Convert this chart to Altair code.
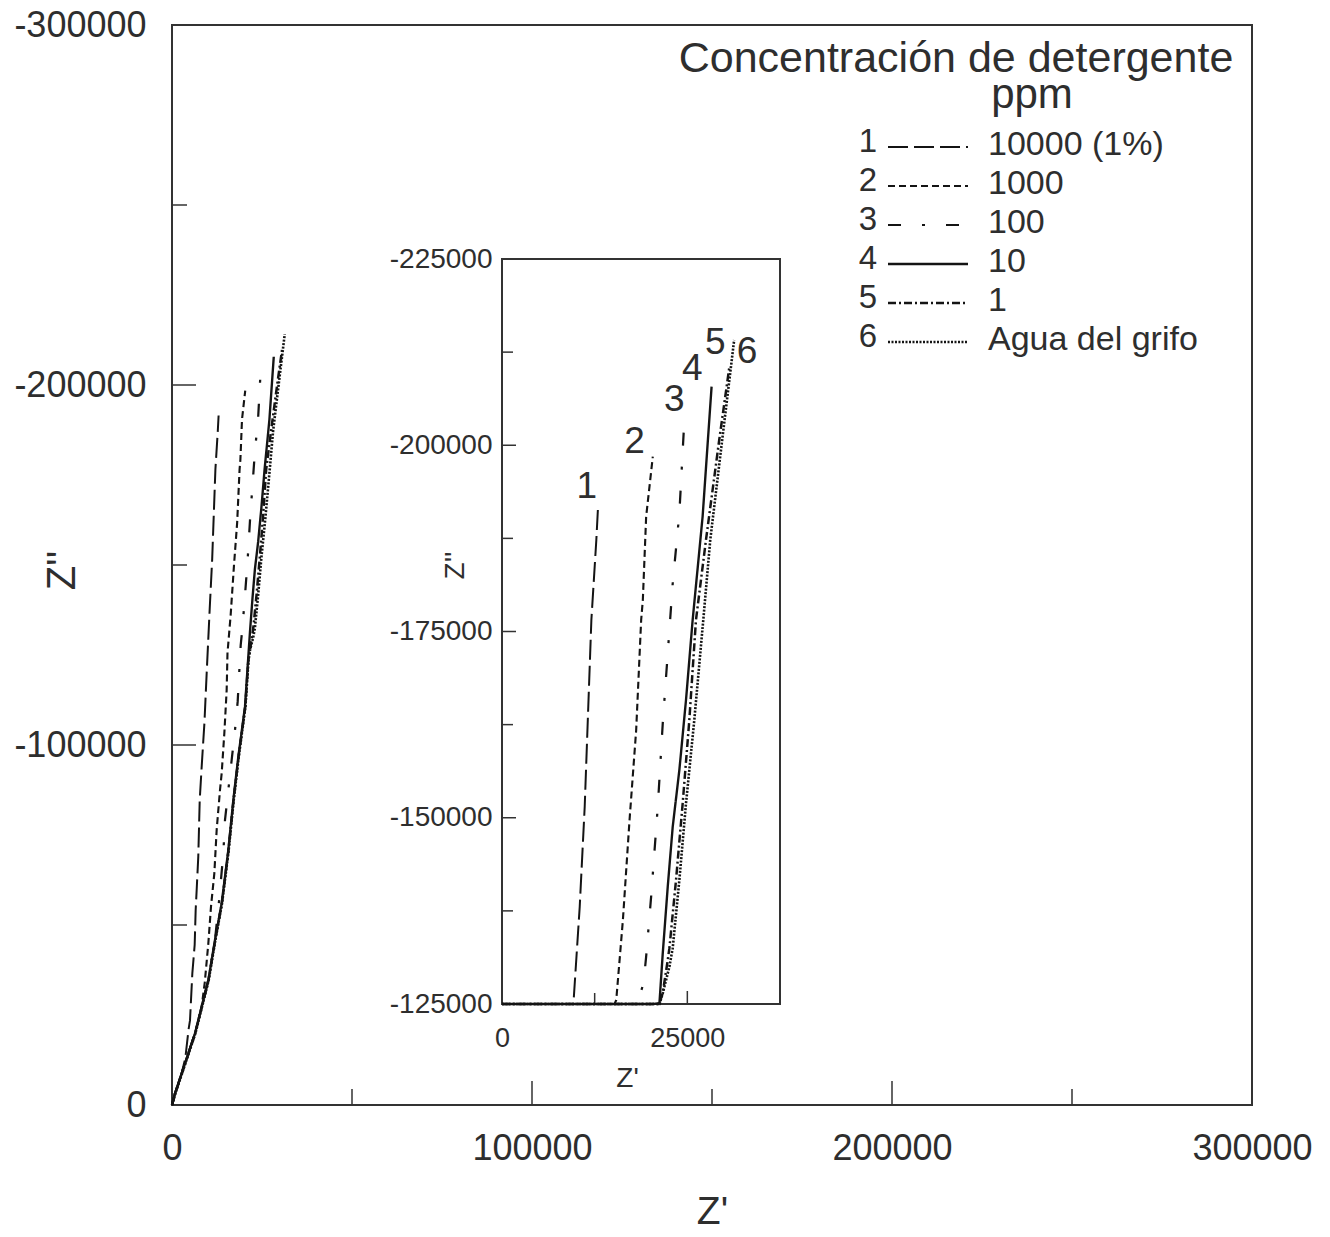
import altair as alt
import pandas as pd

FONT = "Liberation Sans"
TEXT_COLOR = "#2e2e2e"
AXIS_COLOR = "#333333"
LINE_COLOR = "#141414"

# ---------------- data ----------------
SERIES = ["10000 (1%)", "1000", "100", "10", "1", "Agua del grifo"]
LEG_NUM = ["1", "2", "3", "4", "5", "6"]
LEGEND_TITLE = "Concentración de detergente"
LEGEND_UNIT = "ppm"

S1_X = [0, 833, 2685, 3700, 4600, 5000, 5648, 6300, 6574, 6852, 7300, 7700, 8300, 9000, 9630, 10484, 11156, 12056, 12724, 12944]
S1_Y = [0, -3241, -8796, -13000, -21000, -23500, -36574, -44500, -54167, -59722, -68981, -84722, -94907, -106019, -119907, -138060, -151484, -176544, -187282, -191537]

S2_X = [0, 833, 2685, 4537, 6389, 8241, 9100, 10093, 10833, 11759, 12407, 13333, 13796, 14537, 15185, 15412, 16308, 17204, 18100, 18772, 18997, 19444, 20341]
S2_Y = [0, -3241, -8796, -14352, -19907, -27315, -34000, -44907, -55093, -64352, -76389, -87500, -92130, -103241, -115278, -125537, -136275, -149698, -161779, -176544, -179228, -190409, -198463]

S3_X = [0, 833, 2685, 4537, 6389, 8241, 10093, 11944, 13100, 14259, 14722, 15648, 16574, 17500, 18241, 19086, 19444, 20117, 21013, 21685, 22581, 23029, 23925, 24597]
S3_Y = [0, -3241, -8796, -14352, -19907, -27315, -34722, -45833, -57000, -69907, -79167, -87500, -95833, -104167, -112037, -127785, -131349, -139403, -151484, -162676, -175201, -181477, -190866, -203389]

S4_X = [0, 833, 2685, 4537, 6389, 8241, 10093, 11944, 13796, 15648, 17037, 18426, 20278, 21237, 21685, 22357, 23029, 23925, 24821, 25717, 27061, 28271]
S4_Y = [0, -3241, -8796, -14352, -19907, -27315, -34722, -45833, -56019, -70833, -84722, -96759, -110648, -125089, -131798, -140745, -148800, -156409, -165805, -176544, -190409, -207859]

S5_X = [0, 900, 2750, 4600, 6450, 8300, 10150, 12000, 13850, 15700, 17100, 18500, 20350, 21200, 21685, 22300, 22581, 23476, 24373, 25269, 26165, 27514, 29301, 30645]
S5_Y = [0, -3241, -8796, -14352, -19907, -27315, -34722, -45833, -56019, -70833, -84722, -96759, -110648, -123500, -126500, -130500, -132500, -141644, -151940, -163121, -176544, -187282, -200705, -210331]

S6_X = [0, 950, 2800, 4650, 6500, 8350, 10200, 12050, 13900, 15750, 17150, 18550, 20400, 21250, 21700, 22581, 23029, 23925, 24821, 25941, 27151, 28091, 29700, 31317]
S6_Y = [0, -3241, -8796, -14352, -19907, -27315, -34722, -45833, -56019, -70833, -84722, -96759, -110648, -123500, -126500, -130000, -132500, -141644, -151940, -163121, -176544, -187282, -200705, -214128]

INSET_LABEL_X = [11425, 17876, 23253, 25672, 28763, 33065]
INSET_LABEL_Y = [-194396, -200436, -206074, -210235, -213725, -212517]

MAIN_X_LABELS = [0, 100000, 200000, 300000]
MAIN_Y_LABELS = [0, -100000, -200000, -300000]
MAIN_X_MAJOR = [100000, 200000]
MAIN_X_MINOR = [50000, 150000, 250000]
MAIN_Y_MAJOR = [-100000, -200000]
MAIN_Y_MINOR = [-50000, -150000, -250000]

INSET_X_LABELS = [0, 25000]
INSET_Y_LABELS = [-225000, -200000, -175000, -150000, -125000]
INSET_X_MAJOR = [25000]
INSET_X_MINOR = [12500, 37500]
INSET_Y_MAJOR = [-200000, -175000, -150000]
INSET_Y_MINOR = [-212500, -187500, -162500, -137500]

# ---------------- styles ----------------
DASHES = [[20, 6], [7, 4], [13, 21, 3, 21], [1, 0], [8, 3, 2, 3], [2, 1.5]]
WIDTHS = [2, 2.6, 2.2, 2, 2, 1.5]

rows = []
for name, xs, ys in zip(SERIES, [S1_X, S2_X, S3_X, S4_X, S5_X, S6_X],
                        [S1_Y, S2_Y, S3_Y, S4_Y, S5_Y, S6_Y]):
    for i, (xv, yv) in enumerate(zip(xs, ys)):
        rows.append({"series": name, "i": i, "x": xv, "y": yv})
df = pd.DataFrame(rows)

dash_scale = alt.Scale(domain=SERIES, range=DASHES)
width_scale = alt.Scale(domain=SERIES, range=WIDTHS)

Y_LABEL_EXPR = "datum.value < 0 ? '-' + format(-datum.value, 'd') : '0'"
X_LABEL_EXPR = "format(datum.value, 'd')"

# ---------------- main plot ----------------
main_x = alt.Scale(domain=[0, 300000], nice=False, zero=False)
main_y = alt.Scale(domain=[0, -300000], nice=False, zero=False)

x_axis_main = alt.Axis(values=MAIN_X_LABELS, ticks=False, tickSize=0, domain=False, grid=False,
                       labelFont=FONT, labelFontSize=36, labelColor=TEXT_COLOR, labelPadding=26,
                       labelFlush=False, labelOverlap=False, labelExpr=X_LABEL_EXPR,
                       title="Z'", titleFont=FONT, titleFontSize=39, titleFontWeight="normal",
                       titleColor=TEXT_COLOR, titleX=540, titleY=106, titleBaseline="middle",
                       titleAlign="center", orient="bottom")
y_axis_main = alt.Axis(values=MAIN_Y_LABELS, ticks=False, tickSize=0, domain=False, grid=False,
                       labelFont=FONT, labelFontSize=36, labelColor=TEXT_COLOR, labelPadding=26,
                       labelFlush=False, labelOverlap=False, labelExpr=Y_LABEL_EXPR,
                       title="Z''", titleFont=FONT, titleFontSize=40, titleFontWeight="normal",
                       titleColor=TEXT_COLOR, titleX=-110, titleY=545, titleAngle=270,
                       titleBaseline="middle", titleAlign="center", orient="left")

main_lines = alt.Chart(df).mark_line(color=LINE_COLOR).encode(
    x=alt.X("x:Q", scale=main_x, axis=x_axis_main),
    y=alt.Y("y:Q", scale=main_y, axis=y_axis_main),
    detail="series:N",
    order="i:Q",
    strokeDash=alt.StrokeDash("series:N", scale=dash_scale, legend=None),
    strokeWidth=alt.StrokeWidth("series:N", scale=width_scale, legend=None),
)

one = pd.DataFrame({"k": [0]})
main_frame = alt.Chart(one).mark_rect(fillOpacity=0, stroke=AXIS_COLOR, strokeWidth=2).encode(
    x=alt.datum(0), x2=alt.datum(300000), y=alt.datum(0), y2=alt.datum(-300000))

def yticks(vals, scale, x0, x1):
    return alt.Chart(pd.DataFrame({"y": vals})).mark_rule(color=AXIS_COLOR, strokeWidth=1.5).encode(
        y=alt.Y("y:Q", scale=scale), x=alt.value(x0), x2=alt.value(x1))

def xticks(vals, scale, y0, y1):
    return alt.Chart(pd.DataFrame({"x": vals})).mark_rule(color=AXIS_COLOR, strokeWidth=1.5).encode(
        x=alt.X("x:Q", scale=scale), y=alt.value(y0), y2=alt.value(y1))

main = alt.layer(
    main_frame,
    yticks(MAIN_Y_MAJOR, main_y, 0, 24),
    yticks(MAIN_Y_MINOR, main_y, 0, 15),
    xticks(MAIN_X_MAJOR, main_x, 1080, 1056),
    xticks(MAIN_X_MINOR, main_x, 1080, 1064),
    main_lines,
)

# ---------------- inset ----------------
inset_x = alt.Scale(domain=[0, 37500], range=[330, 608], nice=False, zero=False, clamp=True)
inset_y = alt.Scale(domain=[-125000, -225000], range=[979, 234], nice=False, zero=False, clamp=True)

x_axis_inset = alt.Axis(values=INSET_X_LABELS, ticks=False, tickSize=0, domain=False, grid=False,
                        labelFont=FONT, labelFontSize=27, labelColor=TEXT_COLOR, labelPadding=21,
                        labelFlush=False, labelOverlap=False, labelExpr=X_LABEL_EXPR,
                        title="Z'", titleFont=FONT, titleFontSize=28, titleFontWeight="normal",
                        titleColor=TEXT_COLOR, titleX=455, titleY=74, titleBaseline="middle",
                        titleAlign="center", orient="bottom", offset=-101)
y_axis_inset = alt.Axis(values=INSET_Y_LABELS, ticks=False, tickSize=0, domain=False, grid=False,
                        labelFont=FONT, labelFontSize=28, labelColor=TEXT_COLOR, labelPadding=10,
                        labelFlush=False, labelOverlap=False, labelExpr=Y_LABEL_EXPR,
                        title="Z''", titleFont=FONT, titleFontSize=28, titleFontWeight="normal",
                        titleColor=TEXT_COLOR, titleX=-47, titleY=540, titleAngle=270,
                        titleBaseline="middle", titleAlign="center", orient="left", offset=-330)

inset_lines = alt.Chart(df).mark_line(color=LINE_COLOR).encode(
    x=alt.X("x:Q", scale=inset_x, axis=x_axis_inset),
    y=alt.Y("y:Q", scale=inset_y, axis=y_axis_inset),
    detail="series:N",
    order="i:Q",
    strokeDash=alt.StrokeDash("series:N", scale=dash_scale, legend=None),
    strokeWidth=alt.StrokeWidth("series:N", scale=width_scale, legend=None),
)

inset_frame = alt.Chart(one).mark_rect(fillOpacity=0, stroke=AXIS_COLOR, strokeWidth=2).encode(
    x=alt.datum(0), x2=alt.datum(37500), y=alt.datum(-125000), y2=alt.datum(-225000))

inset_text = alt.Chart(pd.DataFrame({"x": INSET_LABEL_X, "y": INSET_LABEL_Y, "t": LEG_NUM})).mark_text(
    font=FONT, fontSize=37, color=TEXT_COLOR, align="center", baseline="middle").encode(
    x=alt.X("x:Q", scale=inset_x), y=alt.Y("y:Q", scale=inset_y), text="t:N")

inset = alt.layer(
    inset_frame,
    yticks(INSET_Y_MAJOR, inset_y, 330, 344),
    yticks(INSET_Y_MINOR, inset_y, 330, 341),
    xticks(INSET_X_MAJOR, inset_x, 979, 966),
    xticks(INSET_X_MINOR, inset_x, 979, 968),
    inset_lines,
    inset_text,
)

# ---------------- legend ----------------
leg_df = pd.DataFrame({"row": list(range(6)), "num": LEG_NUM, "label": SERIES, "series": SERIES})
leg_y = alt.Scale(domain=[0, 5], range=[119, 314], nice=False, zero=False)

leg_nums = alt.Chart(leg_df).mark_text(font=FONT, fontSize=33, color=TEXT_COLOR, align="center",
                                       baseline="middle", dy=-2).encode(
    y=alt.Y("row:Q", scale=leg_y, axis=None), x=alt.value(696), text="num:N")
leg_lines = alt.Chart(leg_df).mark_rule(color=LINE_COLOR, yOffset=3).encode(
    y=alt.Y("row:Q", scale=leg_y, axis=None), x=alt.value(716), x2=alt.value(796),
    strokeDash=alt.StrokeDash("series:N", scale=dash_scale, legend=None),
    strokeWidth=alt.StrokeWidth("series:N", scale=width_scale, legend=None))
leg_labels = alt.Chart(leg_df).mark_text(font=FONT, fontSize=34, color=TEXT_COLOR, align="left",
                                         baseline="middle", dy=1).encode(
    y=alt.Y("row:Q", scale=leg_y, axis=None), x=alt.value(816), text="label:N")
leg_title = alt.Chart(pd.DataFrame({"t": [LEGEND_TITLE]})).mark_text(
    font=FONT, fontSize=43, color=TEXT_COLOR, align="center", baseline="alphabetic").encode(
    x=alt.value(784), y=alt.value(47), text="t:N")
leg_unit = alt.Chart(pd.DataFrame({"t": [LEGEND_UNIT]})).mark_text(
    font=FONT, fontSize=42, color=TEXT_COLOR, align="center", baseline="alphabetic").encode(
    x=alt.value(860), y=alt.value(83), text="t:N")

legend = alt.layer(leg_nums, leg_lines, leg_labels, leg_title, leg_unit)

chart = alt.layer(main, inset, legend).resolve_scale(
    x="independent", y="independent"
).properties(
    width=1080, height=1080,
    autosize=alt.AutoSizeParams(type="none"),
    padding={"left": 164, "top": 17, "right": 66, "bottom": 122},
).configure_view(stroke=None)

chart.save("out.html", embed_options={"renderer": "svg", "actions": False})
